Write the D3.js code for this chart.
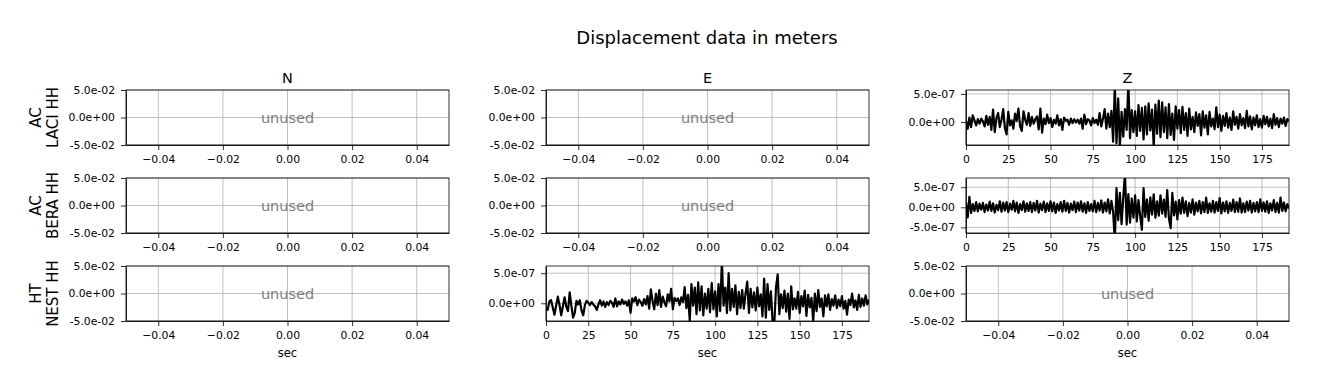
<!DOCTYPE html>
<html>
<head>
<meta charset="utf-8">
<script src='https://d3js.org/d3.v7.min.js'></script>
<style>
body {margin: 0; background: white;}
text {font-family: 'DejaVu Sans', sans-serif;}
.grid line {stroke: #b0b0b0; stroke-width: 0.8;}
.axis path, .axis line {stroke: black; stroke-width: 0.8;}
.axis text {font-size: 10.8px; fill: black;}
</style>
</head>
<body>
<script>
// channel columns and station rows
var channels = ['N', 'E', 'Z'];
var networks = ['AC', 'AC', 'HT'];
var stations = ['LACI HH', 'BERA HH', 'NEST HH'];

// displacement samples, one per second, in units of 1e-7 m
var unit = 1e-7;
var dt = 1;
var laciZ = [
  0.2,-1.2,0.8,-0.9,1.2,0.3,-0.6,0.5,-0.3,0.6,
  0.1,-0.8,1.1,-0.5,0.9,-1.4,2.2,-1.8,0.7,1.6,
  -0.9,0.4,2.3,-1.1,-2.2,1.8,-0.6,0.3,-1.2,1.5,
  0.2,2.4,-0.8,-1.6,1.9,0.4,-0.5,1.6,-0.7,0.9,
  -0.3,0.5,1.0,-1.3,2.4,-1.9,0.6,-0.4,1.3,-0.2,
  0.7,-0.9,0.4,-0.3,1.2,-0.6,0.5,-1.4,0.8,0.2,
  0.4,-0.5,0.6,-0.2,0.5,-0.1,0.4,-0.3,0.6,-1.2,
  1.3,-0.4,0.5,0.3,-0.6,0.7,-0.2,0.4,-0.5,1.6,
  -0.8,0.6,2.3,-1.2,1.5,-0.9,2.0,-3.5,6.5,-3.8,
  4.2,-4.3,1.8,-2.6,2.3,-1.4,7.0,-2.9,2.1,-1.8,
  1.9,-2.5,3.0,-1.6,2.5,-3.1,2.8,-2.2,3.3,-1.5,
  2.2,-4.4,3.1,-2.1,3.8,-2.7,3.5,-1.8,2.6,-2.9,
  3.2,-2.3,1.5,-3.2,2.8,-1.2,2.1,-2.0,2.7,-1.4,
  1.6,-2.5,2.4,-1.3,0.9,-1.8,1.7,-0.7,1.4,-2.4,
  1.9,-1.0,1.2,-2.2,1.8,-0.8,0.6,-1.3,2.6,-0.9,
  1.3,-1.6,1.1,-0.7,1.6,-1.0,0.8,-1.4,1.9,-0.5,
  0.9,-1.2,1.4,-0.6,0.7,-1.1,2.0,-0.8,1.0,-1.3,
  0.8,-0.6,1.2,-0.9,0.5,-1.0,1.1,-0.4,0.9,-0.8,
  0.6,-1.1,1.4,-0.5,0.7,-0.9,0.6,-0.3,0.8,-0.7,
  0.5,0.2
];
var beraZ = [
  1.2,-2.5,2.6,-1.4,0.8,-0.9,1.3,-1.0,0.9,-0.6,
  1.1,-1.2,0.7,-0.8,1.4,-0.9,1.0,-1.3,0.6,-0.7,
  1.5,-1.1,1.2,-0.8,1.3,-1.2,0.9,-0.6,1.6,-1.0,
  1.2,-1.4,0.8,-0.7,1.5,-1.1,1.0,-0.9,1.3,-1.2,
  1.1,-0.8,1.6,-1.3,0.9,-0.7,1.4,-1.2,1.0,-0.9,
  1.5,-1.0,1.2,-1.4,0.8,-0.8,1.3,-1.1,1.6,-0.9,
  1.1,-1.3,0.9,-0.7,1.4,-1.2,1.2,-0.8,1.5,-1.1,
  1.0,-1.4,1.3,-0.9,0.8,-1.0,1.6,-1.2,1.1,-0.8,
  1.7,-1.3,1.2,-1.0,2.0,-1.5,1.6,-1.2,-8.0,4.8,
  -3.2,3.6,-4.2,2.5,8.5,-4.3,3.3,-3.8,2.2,-2.6,
  3.0,-3.5,1.8,-2.2,-5.6,4.8,-2.4,2.0,-3.3,2.5,
  -1.8,3.2,-2.6,1.5,-2.1,3.0,-1.6,1.9,-2.4,4.3,
  -2.8,-5.2,3.6,-2.0,1.4,-3.0,1.8,-1.6,2.4,-1.4,
  1.5,-2.2,1.1,-1.3,2.0,-1.8,1.2,-1.0,1.6,-1.5,
  1.3,-1.2,2.4,-1.4,1.0,-1.1,1.6,-1.3,1.3,-0.9,
  2.3,-1.5,1.2,-1.0,1.5,-1.4,1.1,-0.9,1.9,-1.2,
  1.3,-1.1,2.2,-1.3,1.0,-1.2,1.4,-0.8,1.6,-1.3,
  1.1,-1.0,1.3,-1.2,2.0,-0.9,1.2,-1.1,1.5,-1.4,
  1.0,-0.8,1.8,-1.2,1.1,-1.3,2.4,-0.9,1.2,-1.0,
  0.8,-0.3
];
var nestE = [
  -0.8,-1.1,0.3,0.5,-0.7,-1.9,-0.4,1.1,-0.3,-2.0,
  -0.5,1.0,-0.6,-1.3,1.8,-0.4,-2.4,-1.6,0.4,-0.2,
  0.5,-1.2,-2.0,-0.3,0.4,0.1,-0.3,0.2,-0.2,-0.5,
  -1.1,-0.2,0.5,-0.4,0.3,-0.6,0.2,-0.3,0.4,0.1,
  -0.6,0.8,-0.5,0.3,-0.2,0.6,-0.1,0.3,-0.4,0.5,
  -1.6,0.8,0.3,1.0,-0.3,0.6,0.2,-0.4,0.7,-0.2,
  1.2,-0.9,2.3,0.4,-1.0,1.6,-0.3,2.2,-0.6,1.1,
  0.2,-0.5,1.5,0.3,2.4,-1.0,0.9,0.4,0.8,-0.3,
  1.0,0.2,2.7,-0.8,1.4,-2.9,3.2,-0.4,2.6,-1.8,
  3.5,-1.2,2.8,-2.0,1.6,-0.9,2.4,-1.5,3.4,-1.0,
  2.0,-2.2,3.2,-1.3,7.0,-0.4,2.6,-1.6,5.0,-1.2,
  2.4,-0.6,3.0,-1.8,1.9,-0.8,2.2,-0.9,1.6,3.6,
  -1.6,2.4,-0.7,1.8,-1.2,2.6,-0.5,1.5,-2.2,4.1,
  -2.4,3.2,-1.1,2.0,-3.1,-3.5,2.6,4.8,-1.8,1.5,
  -0.8,2.1,-1.4,1.6,-2.6,2.8,-1.0,0.8,-0.9,1.9,
  -1.6,1.2,-0.5,2.1,-2.1,1.4,-0.7,0.9,-3.0,1.6,
  -1.3,2.2,-0.6,0.8,-2.2,1.3,-0.5,1.5,-1.1,0.7,
  -0.4,1.3,-0.8,0.6,-0.5,1.2,-0.9,0.4,-1.9,0.6,
  -0.3,1.6,-0.7,0.5,-1.1,1.4,-0.6,0.8,-0.4,1.3,
  -0.2,0.6
];

// which panel holds which trace, with its y limits (1e-7 m)
var traces = [
  {row: 0, col: 2, values: laciZ, ylim: [-4.1, 5.7]},
  {row: 1, col: 2, values: beraZ, ylim: [-6.4, 7.3]},
  {row: 2, col: 1, values: nestE, ylim: [-2.95, 6.2]}
];

// tick values
var emptyXTicks = [-0.04, -0.02, 0, 0.02, 0.04];
var emptyYTicks = [-0.05, 0, 0.05];
var traceXTicks = [0, 25, 50, 75, 100, 125, 150, 175];
var traceYTicks = [-5e-7, 0, 5e-7];

var W = 1318, H = 389;
var colX = [126, 546, 966], rowY = [90, 178, 266];
var pw = 323, ph = 55;

var svg = d3.select('body').append('svg')
  .attr('width', W).attr('height', H);

// like matplotlib %.1e : 5.0e-07
function sci(v) {
  return v.toExponential(1).replace(/e([+-])(\d)$/, 'e$10$2');
}

svg.append('text')
  .attr('x', 707).attr('y', 44)
  .attr('text-anchor', 'middle')
  .style('font-size', '18px')
  .text('Displacement data in meters');

for (var r = 0; r < 3; r++) {
  for (var c = 0; c < 3; c++) {
    var tr = traces.find(function(t) { return t.row == r && t.col == c; });
    var g = svg.append('g').attr('transform', 'translate(' + colX[c] + ',' + rowY[r] + ')');
    var x, y, xt, yt, xf;
    if (tr) {
      x = d3.scaleLinear().domain([0, (tr.values.length - 1) * dt]).range([0, pw]);
      y = d3.scaleLinear().domain([tr.ylim[0] * unit, tr.ylim[1] * unit]).range([ph, 0]);
      xt = traceXTicks;
      yt = traceYTicks.filter(function(v) { return v >= y.domain()[0] && v <= y.domain()[1]; });
      xf = d3.format('d');
    } else {
      x = d3.scaleLinear().domain([-0.05, 0.05]).range([0, pw]);
      y = d3.scaleLinear().domain([-0.05, 0.05]).range([ph, 0]);
      xt = emptyXTicks;
      yt = emptyYTicks;
      xf = d3.format('.2f');
    }

    // grid
    g.append('g').attr('class', 'grid').selectAll('line.v').data(xt).enter()
      .append('line').attr('x1', x).attr('x2', x).attr('y1', 0).attr('y2', ph);
    g.append('g').attr('class', 'grid').selectAll('line.h').data(yt).enter()
      .append('line').attr('y1', y).attr('y2', y).attr('x1', 0).attr('x2', pw);

    if (tr) {
      var cid = 'clip' + r + c;
      g.append('clipPath').attr('id', cid).append('rect')
        .attr('width', pw).attr('height', ph);
      g.append('path')
        .datum(tr.values)
        .attr('clip-path', 'url(#' + cid + ')')
        .attr('fill', 'none')
        .attr('stroke', 'black')
        .attr('stroke-width', 2.2)
        .attr('stroke-linejoin', 'round')
        .attr('d', d3.line()
          .x(function(d, i) { return x(i * dt); })
          .y(function(d) { return y(d * unit); }));
    } else {
      g.append('text')
        .attr('x', pw / 2).attr('y', ph / 2)
        .attr('text-anchor', 'middle')
        .attr('dominant-baseline', 'central')
        .style('font-size', '14.5px')
        .style('fill', 'grey')
        .text('unused');
    }

    // axes
    g.append('g').attr('class', 'axis')
      .attr('transform', 'translate(0,' + ph + ')')
      .call(d3.axisBottom(x).tickValues(xt).tickFormat(xf).tickSize(5).tickPadding(5).tickSizeOuter(0));
    g.append('g').attr('class', 'axis')
      .call(d3.axisLeft(y).tickValues(yt).tickFormat(sci).tickSize(5).tickPadding(6).tickSizeOuter(0));
    g.append('rect')
      .attr('width', pw).attr('height', ph)
      .attr('fill', 'none').attr('stroke', 'black').attr('stroke-width', 0.8);

    if (r == 0) {
      g.append('text')
        .attr('x', pw / 2).attr('y', -7)
        .attr('text-anchor', 'middle')
        .style('font-size', '14.5px')
        .text(channels[c]);
    }
    if (r == 2) {
      g.append('text')
        .attr('x', pw / 2).attr('y', ph + 36)
        .attr('text-anchor', 'middle')
        .style('font-size', '11.5px')
        .text('sec');
    }
    if (c == 0) {
      var yc = rowY[r] + ph / 2;
      svg.append('text')
        .attr('transform', 'translate(41,' + yc + ')rotate(-90)')
        .attr('text-anchor', 'middle')
        .style('font-size', '15px')
        .text(networks[r]);
      svg.append('text')
        .attr('transform', 'translate(58,' + yc + ')rotate(-90)')
        .attr('text-anchor', 'middle')
        .style('font-size', '15px')
        .text(stations[r]);
    }
  }
}
</script>
</body>
</html>
